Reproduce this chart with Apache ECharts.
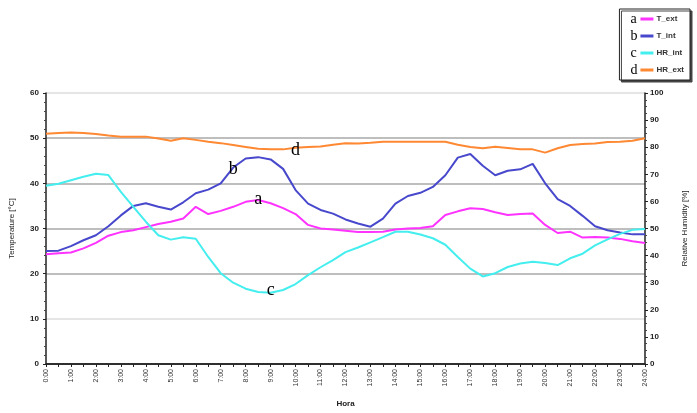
<!DOCTYPE html>
<html>
<head>
<meta charset="utf-8">
<script src="https://cdn.jsdelivr.net/npm/echarts@6/dist/echarts.min.js"></script>
<style>
html,body{margin:0;padding:0;background:#fff;}
#chart{width:697px;height:413px;}
</style>
</head>
<body>
<div id="chart"></div>
<script>
var times = ['0:00','0:30','1:00','1:30','2:00','2:30','3:00','3:30','4:00','4:30','5:00','5:30','6:00','6:30','7:00','7:30','8:00','8:30','9:00','9:30','10:00','10:30','11:00','11:30','12:00','12:30','13:00','13:30','14:00','14:30','15:00','15:30','16:00','16:30','17:00','17:30','18:00','18:30','19:00','19:30','20:00','20:30','21:00','21:30','22:00','22:30','23:00','23:30','24:00'];

var T_ext = [24.3,24.5,24.7,25.6,26.8,28.4,29.2,29.6,30.3,31.0,31.5,32.2,34.8,33.2,33.9,34.8,35.9,36.3,35.6,34.5,33.2,30.8,30.0,29.8,29.5,29.2,29.2,29.3,29.8,30.0,30.1,30.5,33.0,33.8,34.5,34.3,33.6,33.0,33.2,33.3,30.8,29.0,29.3,28.0,28.1,28.0,27.7,27.2,26.8];

var T_int = [25.0,25.1,26.1,27.4,28.5,30.5,32.9,35.0,35.6,34.8,34.2,35.8,37.8,38.6,40.0,43.5,45.5,45.8,45.3,43.2,38.5,35.5,34.1,33.3,32.0,31.1,30.4,32.2,35.5,37.2,37.9,39.2,41.8,45.7,46.5,43.9,41.8,42.8,43.1,44.3,40.0,36.5,35.0,32.8,30.5,29.6,29.1,28.7,28.7];

var HR_int = [65.8,66.5,67.8,69.1,70.2,69.7,63.5,58.0,52.5,47.5,45.9,46.8,46.2,39.5,33.5,30.0,27.8,26.6,26.3,27.3,29.5,32.8,35.7,38.3,41.3,43.0,44.9,46.8,48.8,48.8,47.8,46.4,44.0,39.5,35.2,32.3,33.5,35.8,37.1,37.7,37.3,36.5,39.0,40.7,43.8,46.0,48.0,49.5,49.8];

var HR_ext = [85.0,85.2,85.4,85.2,84.9,84.3,83.9,83.9,83.9,83.2,82.4,83.3,82.7,82.0,81.5,80.8,80.1,79.4,79.2,79.2,79.8,80.1,80.3,80.9,81.5,81.4,81.6,82.0,82.0,82.0,82.0,82.0,82.0,80.9,80.1,79.6,80.2,79.7,79.2,79.2,78.0,79.6,80.8,81.2,81.4,81.9,82.0,82.4,83.3];

var seriesNames = ['T_ext','T_int','HR_int','HR_ext'];
var seriesLetters = ['a','b','c','d'];
var colors = ['#ff33ff','#4848cc','#44eeee','#ff8833'];
var leftTicks = [0,10,20,30,40,50,60];
var rightTicks = [0,10,20,30,40,50,60,70,80,90,100];

var chart = echarts.init(document.getElementById('chart'));

function mp(letter, idx, val) {
  return {
    symbol: 'circle', symbolSize: 1,
    itemStyle: {color: 'rgba(0,0,0,0)'},
    label: {show: true, position: 'inside', formatter: letter, fontFamily: 'Liberation Serif', fontSize: 18, color: '#000'},
    data: [{coord: [idx, val]}]
  };
}

var rich = {
  l: {fontFamily: 'Liberation Serif', fontSize: 14, color: '#000', width: 10},
  t: {fontFamily: 'Liberation Sans', fontSize: 8, color: '#333', fontWeight: 'bold', padding: [0,0,0,3]}
};
colors.forEach(function(c, i){
  rich['k' + i] = {width: 13, height: 3, backgroundColor: c};
});

var option = {
  animation: false,
  backgroundColor: '#fff',
  grid: {left: 45, right: 50, top: 93, bottom: 49},
  legend: {
    orient: 'vertical', right: 7, top: 9,
    itemWidth: 0, itemHeight: 0, itemGap: 3,
    padding: [3, 6, 3, 5],
    backgroundColor: '#fff', borderColor: '#222', borderWidth: 1,
    shadowColor: '#444', shadowOffsetX: 2, shadowOffsetY: 2, shadowBlur: 0,
    data: seriesNames,
    formatter: function(name){
      var i = seriesNames.indexOf(name);
      return '{l|' + seriesLetters[i] + '}{k' + i + '|}{t|' + name + '}';
    },
    textStyle: {rich: rich, padding: 0}
  },
  xAxis: {
    type: 'category', data: times, boundaryGap: false,
    name: 'Hora', nameLocation: 'middle', nameGap: 36,
    nameTextStyle: {fontSize: 8, fontWeight: 'bold', color: '#222', fontFamily: 'Liberation Sans'},
    axisLine: {lineStyle: {color: '#222', width: 1.5}},
    axisTick: {interval: 0, length: 3, lineStyle: {color: '#222'}},
    axisLabel: {interval: 1, rotate: 90, fontSize: 7, color: '#333', fontFamily: 'Liberation Sans', margin: 5},
    splitLine: {show: false}
  },
  yAxis: [{
    type: 'value', min: leftTicks[0], max: leftTicks[leftTicks.length-1], interval: 10,
    name: 'Temperature [°C]', nameLocation: 'middle', nameGap: 30, nameRotate: 90,
    nameTextStyle: {fontSize: 8, color: '#222', fontFamily: 'Liberation Sans'},
    axisLine: {show: true, lineStyle: {color: '#222', width: 1.5}},
    axisTick: {show: true, length: 3, lineStyle: {color: '#222'}},
    minorTick: {show: true, splitNumber: 5, length: 2, lineStyle: {color: '#444'}},
    axisLabel: {fontSize: 8, color: '#222', fontFamily: 'Liberation Sans', fontWeight: 'bold', margin: 7},
    splitLine: {show: true, lineStyle: {color: ['#222','#dddddd','#a8a8a8','#a8a8a8','#a8a8a8','#a8a8a8','#dddddd'], width: 1.5}}
  }, {
    type: 'value', min: rightTicks[0], max: rightTicks[rightTicks.length-1], interval: 10,
    name: 'Relative Humidity [%]', nameLocation: 'middle', nameGap: 36, nameRotate: 90,
    nameTextStyle: {fontSize: 8, color: '#222', fontFamily: 'Liberation Sans'},
    axisLine: {show: true, lineStyle: {color: '#222', width: 1.5}},
    axisTick: {show: true, length: 3, inside: false, lineStyle: {color: '#222'}},
    minorTick: {show: true, splitNumber: 4, length: 2, lineStyle: {color: '#444'}},
    axisLabel: {fontSize: 8, color: '#222', fontFamily: 'Liberation Sans', fontWeight: 'bold', margin: 5},
    splitLine: {show: false}
  }],
  series: [
    {name: 'T_ext', type: 'line', yAxisIndex: 0, data: T_ext, showSymbol: false, symbol: 'none', lineStyle: {width: 2, color: colors[0]}, itemStyle: {color: colors[0]}, markPoint: mp('a', 17, 36.4)},
    {name: 'T_int', type: 'line', yAxisIndex: 0, data: T_int, showSymbol: false, symbol: 'none', lineStyle: {width: 2, color: colors[1]}, itemStyle: {color: colors[1]}, markPoint: mp('b', 15, 43.1)},
    {name: 'HR_int', type: 'line', yAxisIndex: 1, data: HR_int, showSymbol: false, symbol: 'none', lineStyle: {width: 2, color: colors[2]}, itemStyle: {color: colors[2]}, markPoint: mp('c', 18, 27.3)},
    {name: 'HR_ext', type: 'line', yAxisIndex: 1, data: HR_ext, showSymbol: false, symbol: 'none', lineStyle: {width: 2, color: colors[3]}, itemStyle: {color: colors[3]}, markPoint: mp('d', 20, 79)}
  ]
};
chart.setOption(option);
</script>
</body>
</html>
